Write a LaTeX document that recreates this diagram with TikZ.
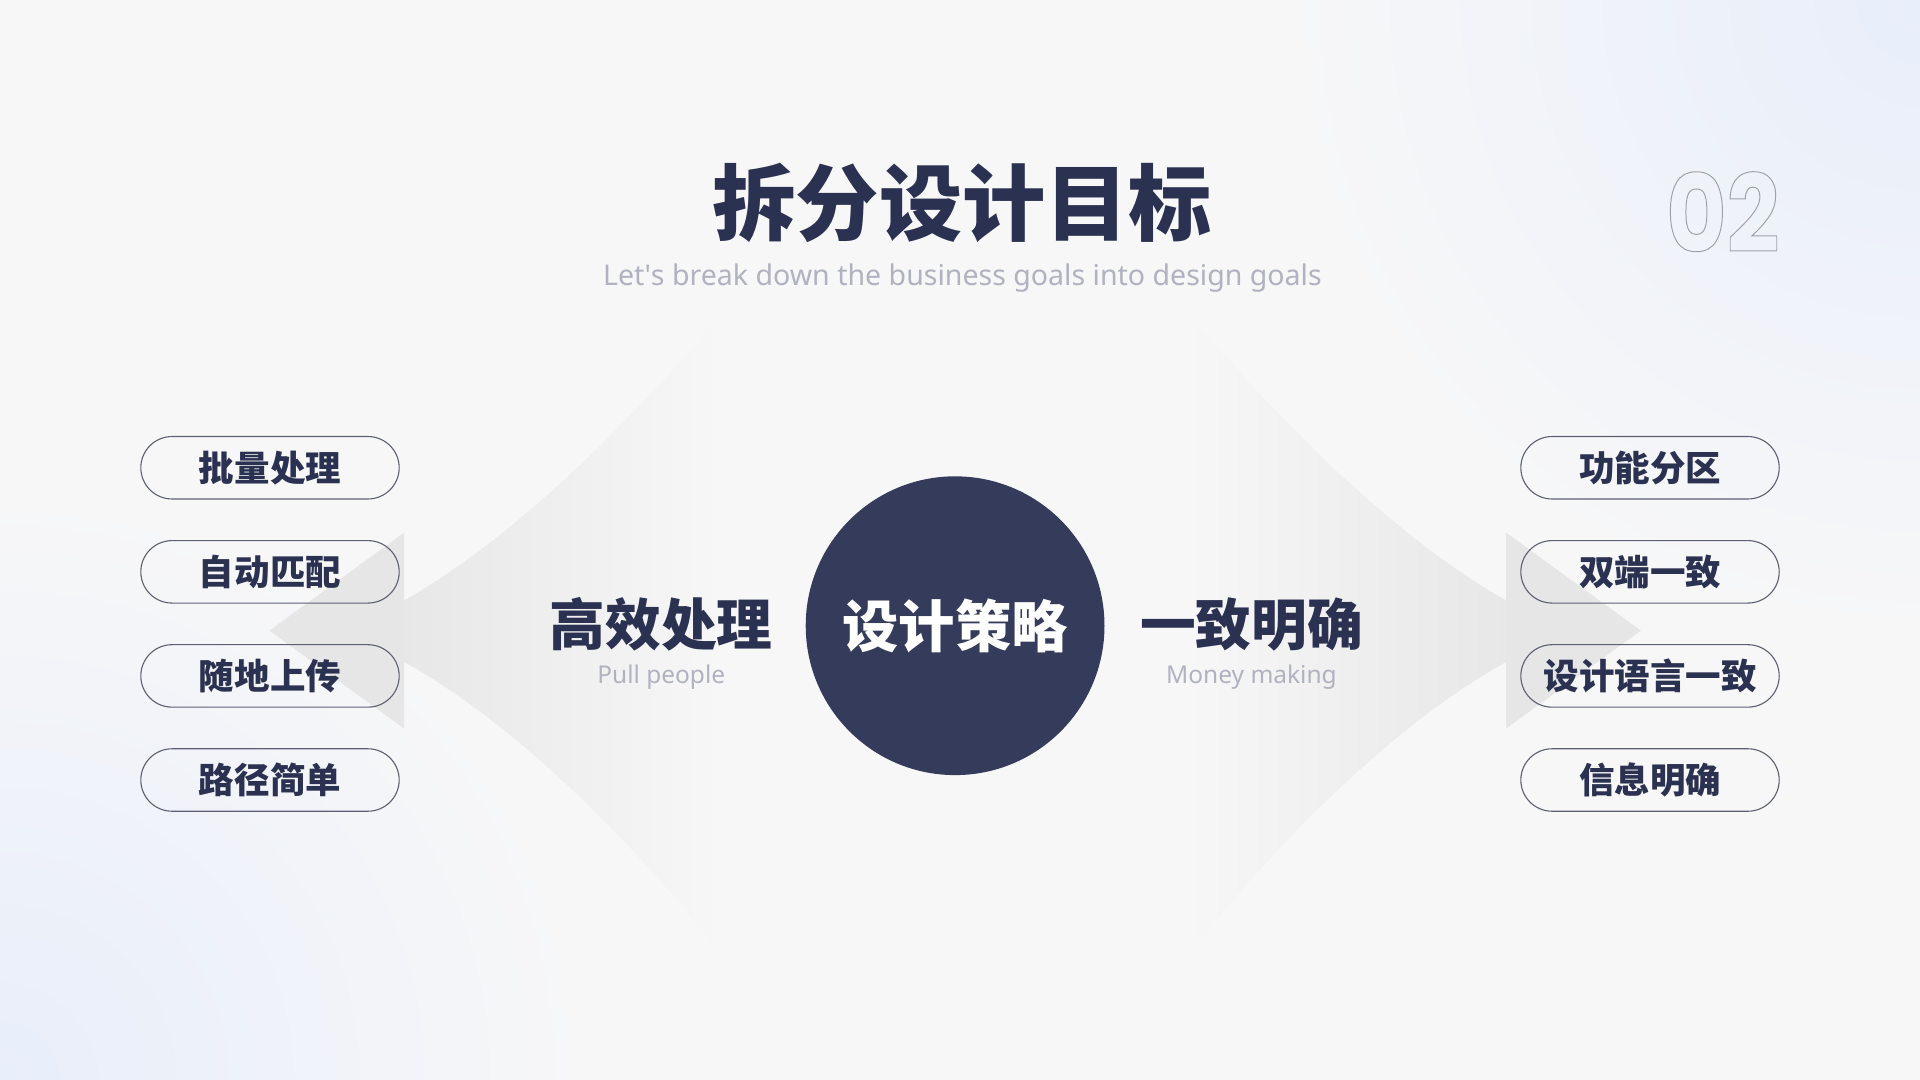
\documentclass[tikz,border=0pt]{standalone}
\usepackage{fontspec}
\setmainfont{Noto Sans}
\newfontfamily\cjkheavy{Noto Sans CJK SC Black}
\newfontfamily\numfont[FakeStretch=0.86]{Poppins Bold}
\usetikzlibrary{positioning}

\begin{document}
\begin{tikzpicture}[x=1pt, y=-1pt,
    pill/.style={draw=pillline, line width=0.9pt, rounded corners=25.5pt,
      minimum width=211pt, minimum height=51pt, inner sep=0pt,
      font=\cjkheavy\fontsize{29}{29}\selectfont, text=navy},
    heading/.style={font=\cjkheavy\fontsize{45.5}{45.5}\selectfont, text=navy, inner sep=0pt},
    caption/.style={font=\fontsize{20}{20}\selectfont, text=subgray, inner sep=0pt}]
    % Define colors
    \definecolor{bgcolor}{RGB}{247, 247, 248}
    \definecolor{bluetint}{RGB}{232, 238, 250}
    \definecolor{navy}{RGB}{43, 49, 80}
    \definecolor{circlecolor}{RGB}{53, 59, 90}
    \definecolor{subgray}{RGB}{176, 178, 192}
    \definecolor{pillline}{RGB}{92, 96, 114}
    \definecolor{fandark}{RGB}{231, 231, 232}
    \definecolor{tipcolor}{RGB}{230, 230, 231}

    % Background
    \useasboundingbox (0,0) rectangle (1568,882);
    \fill[bgcolor] (0,0) rectangle (1568,882);
    \begin{scope}
      \clip (0,0) rectangle (1568,882);
      \shade[inner color=bluetint, outer color=bgcolor] (1568,0) circle (520);
      \shade[inner color=bluetint, outer color=bgcolor] (0,882) circle (480);
    \end{scope}

    % Fans behind the headings
    \shade[left color=fandark, right color=bgcolor]
      (329,491) .. controls (420,440) and (520,340) .. (590,255)
      -- (590,780) .. controls (520,690) and (420,590) .. (329,540) -- cycle;
    \shade[right color=fandark, left color=bgcolor]
      (1231,491) .. controls (1140,440) and (1040,340) .. (970,255)
      -- (970,780) .. controls (1040,690) and (1140,590) .. (1231,540) -- cycle;
    \fill[tipcolor] (220,515) -- (330,435) -- (330,595) -- cycle;
    \fill[tipcolor] (1340,515) -- (1230,435) -- (1230,595) -- cycle;

    % Title
    \node[font=\cjkheavy\fontsize{68}{68}\selectfont, text=navy, inner sep=0pt]
      (title) at (786,166) {拆分设计目标};
    \node[font=\fontsize{23.3}{23.3}\selectfont, text=subgray, inner sep=0pt]
      (subtitle) at (786,227) {Let\textquotesingle s break down the business goals into design goals};
    \node[font=\numfont\fontsize{88}{88}\selectfont, inner sep=0pt]
      (number) at (1407,173) {\special{pdf:literal direct 1 Tr 0.8 w 0.62 0.63 0.66 RG}02\special{pdf:literal direct 0 Tr}};

    % Centre circle
    \node[circle, fill=circlecolor, minimum size=244pt, inner sep=0pt,
      font=\cjkheavy\fontsize{46}{46}\selectfont, text=white]
      (strategy) at (780,511) {设计策略};

    % Headings
    \node[heading] (left) at (540,510) {高效处理};
    \node[caption] (leftsub) at (540,553) {Pull people};
    \node[heading] (right) at (1022,510) {一致明确};
    \node[caption] (rightsub) at (1022,553) {Money making};

    % Goals
    \foreach \name/\y/\txt in {l1/382/批量处理, l2/467/自动匹配, l3/552/随地上传, l4/637/路径简单}
      \node[pill] (\name) at (220.5,\y) {\txt};
    \foreach \name/\y/\txt in {r1/382/功能分区, r2/467/双端一致, r3/552/设计语言一致, r4/637/信息明确}
      \node[pill] (\name) at (1347.5,\y) {\txt};

\end{tikzpicture}
\end{document}
